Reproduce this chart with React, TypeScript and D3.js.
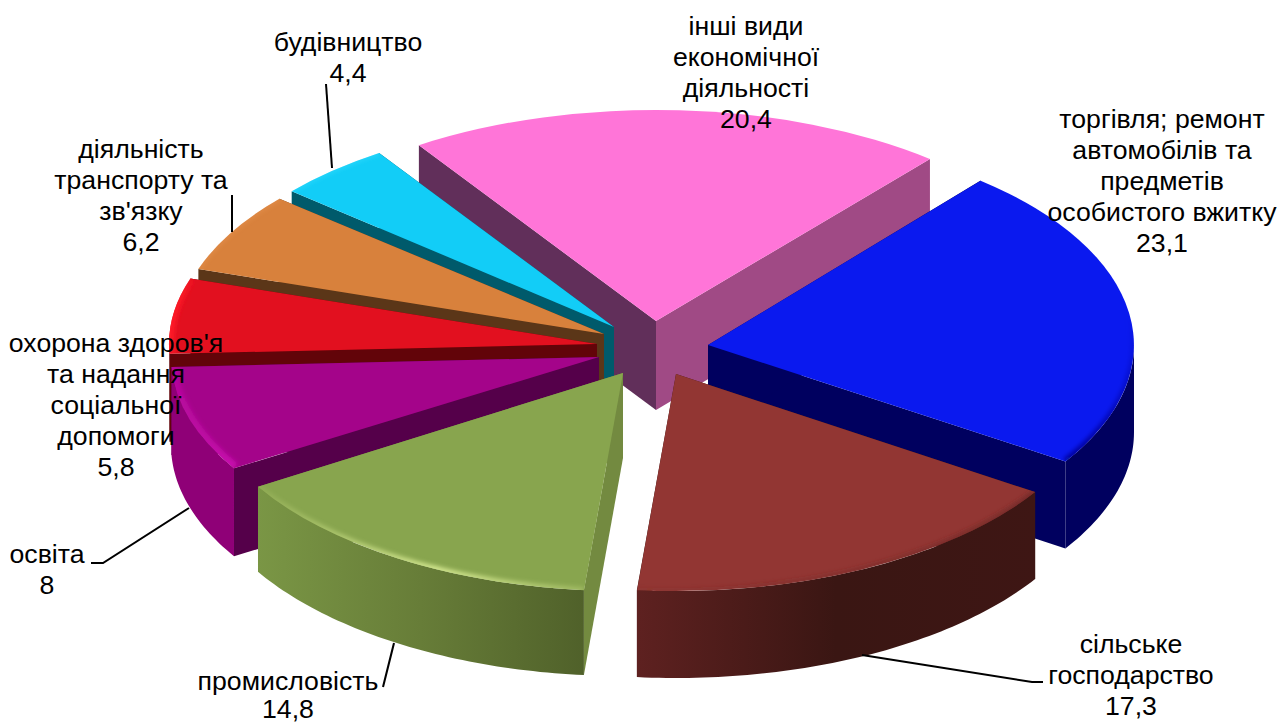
import React from "react";
import * as d3 from "d3";

const W = 1278, H = 724;
const sectorNames = ["торгівля", "сільське господарство", "промисловість", "освіта", "охорона здоров'я", "транспорт", "будівництво", "інші"];
const sectorValues = [23.1, 17.3, 14.8, 8, 5.8, 6.2, 4.4, 20.4];
const topColors = ["#0a19ef", "#923633", "#88a54e", "#a4048a", "#e2101f", "#d8813c", "#12cdf7", "#ff75d8"];
const startWallColors = ["#00005f", "#3a1613", "#738a40", "#55004a", "#620409", "#5b3618", "#005a6b", "#612f5a"];
const endWallColors = ["#00005f", "#3a1613", "#738a40", "#55004a", "#620409", "#5b3618", "#005a6b", "#a04a85"];
const rimLeftColors = ["#00005f", "#5e2120", "#7a9645", "#8f0077", "#620409", "#5b3618", "#005a6b", "#a04a85"];
const rimMidColors = ["#00005f", "#3a1613", "#677d38", "#8f0077", "#620409", "#5b3618", "#005a6b", "#a04a85"];
const rimRightColors = ["#00005f", "#3e1614", "#50612a", "#8f0077", "#620409", "#5b3618", "#005a6b", "#a04a85"];
const bevelColors = ["#05079c", "#6e2826", "#d4e890", "#c80cae", "#ff1a26", "#ec9a58", "#45e2ff", "#ff75d8"];
const bevelWidths = [7, 6, 6, 12, 10, 4, 4, 0];
const bevelOpacityA = [0, 0.1, 0.1, 0.5, 1, 0.4, 0.4, 0];
const bevelOpacityB = [0.5, 0.4, 1, 0.7, 0.8, 0.4, 0.4, 0];
const bevelOpacityC = [1, 0.8, 0.3, 1, 0.5, 0.4, 0.4, 0];
// apex of every pulled-out slice, in picture pixels
const apexX = [708, 676, 623, 599, 597, 604, 614, 656];
const apexY = [345, 374, 373, 357, 344, 334, 327, 321];
const radiusX = [426, 428, 428, 428, 428, 427, 424, 428];
const radiusY = [214, 217, 218, 213, 210, 208, 209, 211];
const depths = [87, 87, 85, 88, 88, 87, 87, 89];

const labelLines = [
  ["торгівля; ремонт", "автомобілів та", "предметів", "особистого вжитку", "23,1"],
  ["сільське", "господарство", "17,3"],
  ["промисловість", "14,8"],
  ["освіта", "8"],
  ["охорона здоров'я", "та надання", "соціальної", "допомоги", "5,8"],
  ["діяльність", "транспорту та", "зв'язку", "6,2"],
  ["будівництво", "4,4"],
  ["інші види", "економічної", "діяльності", "20,4"],
];
const labelCx = [1162, 1131, 288, 47, 116, 141, 348, 746];
const labelTopBaseline = [128, 653, 690, 563, 352, 158, 51, 35];
const labelLineHeight = [31, 31, 28, 31, 31, 31, 31, 31];
const leaders: [number, number][][] = [
  [[862, 655], [1032, 682], [1043, 682]],
  [[394, 643], [383, 687]],
  [[189, 508], [103, 563], [91, 563]],
  [[232, 195], [232, 232]],
  [[326, 84], [332, 168]],
];

const rad = (d: number) => (d * Math.PI) / 180;
const START = rad(39.8);
const pie = d3.pie<number>().sort(null).value((d) => d).startAngle(START).endAngle(START + 2 * Math.PI);
const arcs = pie(sectorValues);
const unitArc = d3.arc<any>().innerRadius(0).outerRadius(1);
const lineGen = d3.line<[number, number]>();

function pt(i: number, a: number, dz = 0): [number, number] {
  return [apexX[i] + radiusX[i] * Math.sin(a), apexY[i] - radiusY[i] * Math.cos(a) + dz];
}
function sample(i: number, a0: number, a1: number, dz = 0): [number, number][] {
  const n = Math.max(2, Math.ceil(Math.abs(a1 - a0) / rad(1)));
  return d3.range(n + 1).map((k) => pt(i, a0 + ((a1 - a0) * k) / n, dz));
}
function wall(i: number, a: number): string {
  return lineGen([[apexX[i], apexY[i]], pt(i, a), pt(i, a, depths[i]), [apexX[i], apexY[i] + depths[i]]])! + "Z";
}
function rim(i: number): string | null {
  const a0 = Math.max(arcs[i].startAngle, rad(90));
  const a1 = Math.min(arcs[i].endAngle, rad(270));
  if (a1 <= a0) return null;
  return lineGen([...sample(i, a0, a1), ...sample(i, a1, a0, depths[i])])! + "Z";
}
const midCos = (i: number) => Math.cos((arcs[i].startAngle + arcs[i].endAngle) / 2);
const drawOrder = d3.range(arcs.length).sort((p, q) => midCos(q) - midCos(p));

export default function App() {
  return (
    <svg width={W} height={H} viewBox={`0 0 ${W} ${H}`} style={{ position: "absolute", left: 0, top: 0, background: "#fff" }}>
      <defs>
        <filter id="soft" x="-20%" y="-20%" width="140%" height="140%">
          <feGaussianBlur stdDeviation="2" />
        </filter>
        {arcs.map((a, i) => {
          const pts = sample(i, a.startAngle, a.endAngle);
          const xs = pts.map((p) => p[0]);
          // the first slice fades downwards along its arc, the others sideways
          const vertical = i === 0;
          const bevelVec = vertical
            ? { x1: 0, x2: 0, y1: apexY[i] - 30, y2: apexY[i] + 118 }
            : { x1: d3.min(xs), x2: d3.max(xs), y1: 0, y2: 0 };
          return (
            <React.Fragment key={i}>
              <clipPath id={`top${i}`}>
                <path d={unitArc(a)!} transform={`translate(${apexX[i]},${apexY[i]}) scale(${radiusX[i]},${radiusY[i]})`} />
              </clipPath>
              <linearGradient id={`rim${i}`} gradientUnits="userSpaceOnUse" x1={d3.min(xs)} x2={d3.max(xs)} y1="0" y2="0">
                <stop offset="0" stopColor={rimLeftColors[i]} />
                <stop offset="0.5" stopColor={rimMidColors[i]} />
                <stop offset="1" stopColor={rimRightColors[i]} />
              </linearGradient>
              <linearGradient id={`bevel${i}`} gradientUnits="userSpaceOnUse" {...bevelVec}>
                <stop offset="0" stopColor={bevelColors[i]} stopOpacity={bevelOpacityA[i]} />
                <stop offset="0.55" stopColor={bevelColors[i]} stopOpacity={bevelOpacityB[i]} />
                <stop offset="1" stopColor={bevelColors[i]} stopOpacity={bevelOpacityC[i]} />
              </linearGradient>
            </React.Fragment>
          );
        })}
      </defs>
      {drawOrder.map((i) => {
        const a = arcs[i];
        const r = rim(i);
        return (
          <g key={sectorNames[i]}>
            <path d={wall(i, a.endAngle)} fill={endWallColors[i]} />
            <path d={wall(i, a.startAngle)} fill={startWallColors[i]} />
            {r && <path d={r} fill={`url(#rim${i})`} />}
            <path d={unitArc(a)!} transform={`translate(${apexX[i]},${apexY[i]}) scale(${radiusX[i]},${radiusY[i]})`} fill={topColors[i]} />
            {bevelWidths[i] > 0 && (
              <g clipPath={`url(#top${i})`}>
                <g filter="url(#soft)">
                  <path d={lineGen(sample(i, a.startAngle, a.endAngle))!} fill="none" stroke={`url(#bevel${i})`} strokeWidth={bevelWidths[i]} />
                </g>
              </g>
            )}
          </g>
        );
      })}
      {leaders.map((l, i) => (
        <path key={i} d={lineGen(l)!} fill="none" stroke="#000" strokeWidth={2} />
      ))}
      {labelLines.map((lines, i) => (
        <text key={i} textAnchor="middle" fontFamily="'Liberation Sans', Arial, sans-serif" fontSize={26.67} fill="#000">
          {lines.map((t, k) => (
            <tspan key={k} x={labelCx[i]} y={labelTopBaseline[i] + k * labelLineHeight[i]}>{t}</tspan>
          ))}
        </text>
      ))}
    </svg>
  );
}
